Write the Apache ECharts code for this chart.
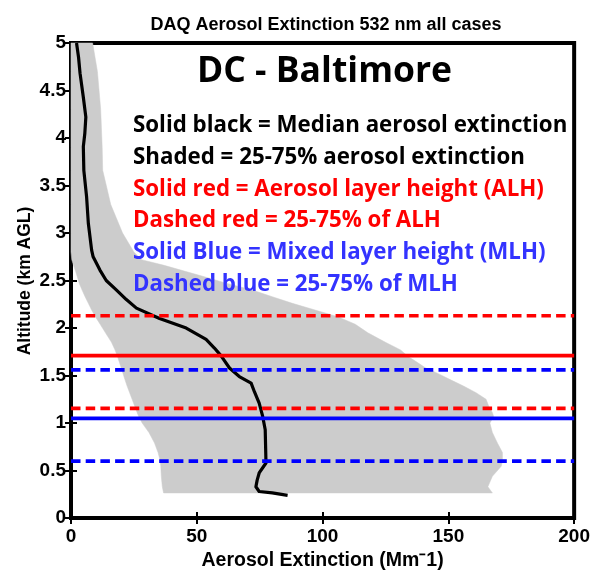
<!DOCTYPE html>
<html><head><meta charset="utf-8">
<script src="https://cdn.jsdelivr.net/npm/echarts@6/dist/echarts.min.js"></script>
<style>html,body{margin:0;padding:0;background:#fff}#c{width:593px;height:576px}</style>
</head><body><div id="c"></div>
<script>
// Median aerosol extinction profile (altitude km, extinction Mm-1)
const medianAlt = [5.0, 4.85, 4.68, 4.43, 4.22, 4.05, 3.91, 3.66, 3.38, 3.10, 2.82, 2.75, 2.61, 2.50, 2.40, 2.30, 2.21, 2.10, 2.00, 1.88, 1.79, 1.71, 1.58, 1.49, 1.42, 1.33, 1.21, 1.07, 0.93, 0.70, 0.58, 0.475, 0.40, 0.33, 0.28, 0.265, 0.24];
const medianExt = [2.2, 3.0, 3.6, 4.9, 5.9, 5.5, 4.9, 5.1, 6.2, 6.9, 8.2, 8.8, 11.5, 14.0, 18.1, 22.0, 26.0, 35.2, 45.8, 53.7, 57.0, 59.6, 63.0, 66.9, 71.6, 72.9, 74.8, 76.2, 77.2, 77.4, 77.5, 74.8, 74.0, 73.5, 74.8, 80.0, 86.1];
// 25-75% shaded band
const shadeAlt  = [5.0, 4.7, 4.3, 3.9, 3.66, 3.3, 3.0, 2.8, 2.72, 2.66, 2.6, 2.54, 2.47, 2.4, 2.33, 2.26, 2.19, 2.12, 2.04, 1.95, 1.85, 1.77, 1.7, 1.65, 1.58, 1.52, 1.46, 1.39, 1.32, 1.25, 1.18, 1.11, 1.07, 1.0, 0.9, 0.79, 0.69, 0.6, 0.545, 0.44, 0.33, 0.265];
const shadeLow  = [0, 0, 0, 0, 0, 0, 0, 0, 0.3, 1.0, 1.8, 2.5, 3.3, 4.4, 5.6, 6.9, 8.2, 9.7, 11.6, 13.7, 16.1, 17.5, 18.5, 19.1, 20.0, 20.7, 21.4, 22.3, 23.3, 24.3, 25.3, 26.3, 26.9, 28.3, 31.0, 33.2, 34.6, 35.5, 35.7, 35.9, 36.3, 36.8];
const shadeHigh = [8.6, 10.5, 11.8, 12.4, 12.6, 15.8, 20.5, 25.0, 28.0, 37.0, 45.0, 53.0, 62.0, 72.0, 80.0, 88.0, 97.0, 106.0, 113.0, 118.0, 125.0, 131.0, 134.0, 137.0, 141.0, 146.0, 150.5, 156.0, 161.0, 165.0, 166.0, 167.5, 168.0, 166.5, 167.5, 169.5, 171.5, 171.5, 171.0, 167.5, 165.7, 167.5];
// Layer heights: [25%, median, 75%]
const alhLevels = [1.155, 1.71, 2.13];
const mlhLevels = [0.60, 1.05, 1.56];
const xTicks = [0, 50, 100, 150, 200];
const yTicks = [0, 0.5, 1, 1.5, 2, 2.5, 3, 3.5, 4, 4.5, 5];

const chart = echarts.init(document.getElementById('c'), null, {renderer:'canvas'});
const dash = [9.5, 5.2];
function hline(level, color, dashed){
  return {type:'line', xAxisIndex:0, yAxisIndex:0, z:4, symbol:'none', silent:true,
    data:[[xTicks[0], level],[xTicks[xTicks.length-1], level]],
    lineStyle:{color:color, width: dashed?3.6:3.8, type: dashed?dash:'solid'}};
}
const series = [
  {type:'custom', xAxisIndex:0, yAxisIndex:0, z:1, silent:true, data:[[0,0]],
   renderItem:(params, api)=>{
     const pts=[];
     for(let i=0;i<shadeAlt.length;i++) pts.push(api.coord([shadeLow[i], shadeAlt[i]]));
     for(let i=shadeAlt.length-1;i>=0;i--) pts.push(api.coord([shadeHigh[i], shadeAlt[i]]));
     return {type:'polygon', shape:{points:pts}, style:{fill:'#CCCCCC', stroke:'#CCCCCC', lineWidth:0.5}};
   }},
  {type:'line', xAxisIndex:0, yAxisIndex:0, z:3, symbol:'none', silent:true,
   data: medianAlt.map((a,i)=>[medianExt[i], a]),
   lineStyle:{color:'#000', width:3.2, join:'round'}},
  hline(alhLevels[0], '#FF0000', true),
  hline(alhLevels[1], '#FF0000', false),
  hline(alhLevels[2], '#FF0000', true),
  hline(mlhLevels[0], '#0000FF', true),
  hline(mlhLevels[1], '#0000FF', false),
  hline(mlhLevels[2], '#0000FF', true)
];
const FAM = '"Liberation Sans", Arial, sans-serif';
const tickFont = {color:'#000', fontFamily:FAM, fontWeight:'bold', fontSize:19};
const annFont = 'bold 22.3px "Open Sans", Lato, sans-serif';
const ann = (txt, y, color) => ({type:'text', z:10,
  style:{x:133, y:y, text:txt, fill:color, font:annFont, verticalAlign:'middle', align:'left'}});
const option = {
  animation:false,
  backgroundColor:'#fff',
  title:{text:'DAQ Aerosol Extinction 532 nm all cases', left:321, textAlign:'center', top:11,
    textStyle:{fontFamily:FAM, fontWeight:'bold', fontSize:18, color:'#000'}},
  grid:{left:71, right:18, top:43, bottom:56, show:true, borderWidth:4, borderColor:'#000', backgroundColor:'transparent'},
  xAxis:[
    {type:'value', position:'bottom', min:xTicks[0], max:xTicks[xTicks.length-1], interval:50,
     name:'Aerosol Extinction (Mm\u207B1)', nameLocation:'middle', nameGap:31,
     nameTextStyle:Object.assign({}, tickFont, {fontSize:19.5}),
     axisLine:{show:false}, splitLine:{show:false},
     axisTick:{show:true, inside:true, length:6, lineStyle:{color:'#000', width:2}},
     axisLabel:Object.assign({margin:9}, tickFont)},
    {type:'value', position:'top', min:xTicks[0], max:xTicks[xTicks.length-1], interval:50,
     axisLine:{show:false}, splitLine:{show:false}, axisLabel:{show:false},
     axisTick:{show:true, inside:true, length:6, lineStyle:{color:'#000', width:2}}}
  ],
  yAxis:[
    {type:'value', position:'left', min:yTicks[0], max:yTicks[yTicks.length-1], interval:0.5,
     axisLine:{show:false}, splitLine:{show:false},
     axisTick:{show:true, inside:true, length:6, lineStyle:{color:'#000', width:2}},
     axisLabel:Object.assign({margin:5}, tickFont)},
    {type:'value', position:'right', min:yTicks[0], max:yTicks[yTicks.length-1], interval:0.5,
     axisLine:{show:false}, splitLine:{show:false}, axisLabel:{show:false},
     axisTick:{show:true, inside:true, length:6, lineStyle:{color:'#000', width:2}}}
  ],
  graphic:[
    {type:'text', z:10, x:25, y:281, rotation:Math.PI/2,
     style:{x:0, y:0, text:'Altitude (km AGL)', fill:'#000', font:'bold 17.5px "Liberation Sans", Arial, sans-serif', align:'center', verticalAlign:'middle'}},
    {type:'text', z:10, style:{x:197, y:72, text:'DC - Baltimore', fill:'#000', font:'bold 35.5px "Open Sans", Lato, sans-serif', verticalAlign:'middle', align:'left'}},
    ann('Solid black = Median aerosol extinction', 126, '#000'),
    ann('Shaded = 25-75% aerosol extinction', 158, '#000'),
    ann('Solid red = Aerosol layer height (ALH)', 190, '#FF0000'),
    ann('Dashed red = 25-75% of ALH', 221, '#FF0000'),
    ann('Solid Blue = Mixed layer height (MLH)', 253, '#3333FF'),
    ann('Dashed blue = 25-75% of MLH', 285, '#3333FF')
  ],
  series: series
};
chart.setOption(option);
</script></body></html>
